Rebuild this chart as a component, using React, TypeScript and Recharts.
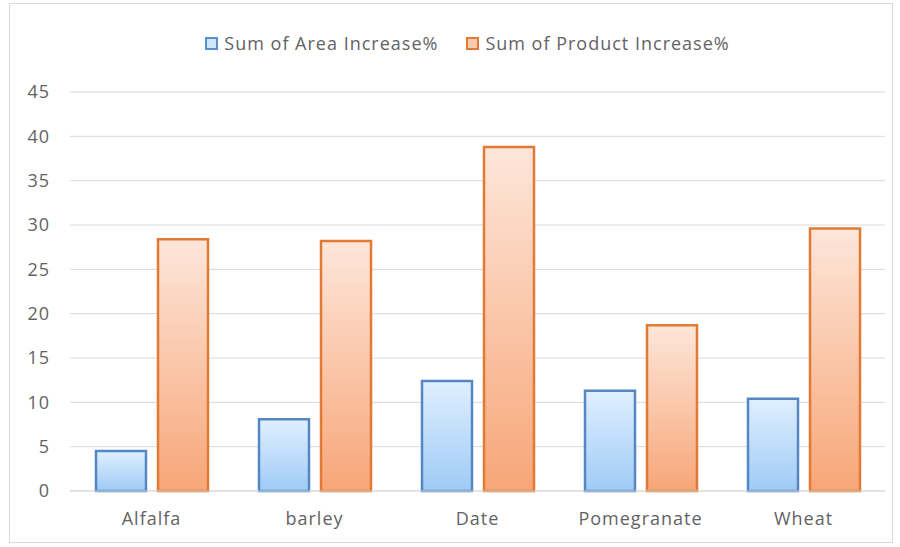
import { Bar, BarChart, CartesianGrid, Legend, XAxis, YAxis } from 'recharts'

const CROPS = ['Alfalfa', 'barley', 'Date', 'Pomegranate', 'Wheat']
const AREA_INCREASE = [4.5, 8.1, 12.4, 11.3, 10.4]
const PRODUCT_INCREASE = [28.4, 28.2, 38.8, 18.7, 29.6]
const Y_TICKS = [0, 5, 10, 15, 20, 25, 30, 35, 40, 45]

const data = CROPS.map((crop, i) => ({
  crop,
  area: AREA_INCREASE[i],
  product: PRODUCT_INCREASE[i],
}))

const FONT = '"Open Sans", "Liberation Sans", sans-serif'
const TEXT = '#636363'

const legendItems = [
  { label: 'Sum of Area Increase%', fill: '#cfe5fb', stroke: '#5b8fc7' },
  { label: 'Sum of Product Increase%', fill: '#fbcbb0', stroke: '#e07a35' },
]

function LegendContent() {
  return (
    <div
      style={{
        display: 'flex',
        justifyContent: 'center',
        gap: 28,
        fontFamily: FONT,
        fontSize: 18,
        letterSpacing: 1,
        color: TEXT,
        paddingLeft: 40,
      }}
    >
      {legendItems.map((it) => (
        <span key={it.label} style={{ display: 'flex', alignItems: 'center' }}>
          <span
            style={{
              width: 9,
              height: 9,
              background: it.fill,
              border: `2px solid ${it.stroke}`,
              marginRight: 6,
            }}
          />
          {it.label}
        </span>
      ))}
    </div>
  )
}

export default function App() {
  return (
    <div style={{ position: 'absolute', left: 0, top: 0, width: 900, height: 547, background: '#fff' }}>
      <div
        style={{
          position: 'absolute',
          left: 9,
          top: 3,
          width: 884,
          height: 540,
          border: '1px solid #d9d9d9',
          boxSizing: 'border-box',
        }}
      />
      <div style={{ position: 'absolute', left: 0, top: 0 }}>
        <BarChart
          width={900}
          height={547}
          data={data}
          margin={{ top: 31, right: 15, bottom: 26, left: 10 }}
          barGap={12}
          barSize={50}
        >
          <defs>
            <linearGradient id="blueGrad" x1="0" y1="0" x2="0" y2="1">
              <stop offset="0%" stopColor="#e0efff" />
              <stop offset="100%" stopColor="#9fcbf6" />
            </linearGradient>
            <linearGradient id="orangeGrad" x1="0" y1="0" x2="0" y2="1">
              <stop offset="0%" stopColor="#fde6da" />
              <stop offset="100%" stopColor="#f7a678" />
            </linearGradient>
          </defs>
          <Legend verticalAlign="top" height={61} content={<LegendContent />} />
          <CartesianGrid vertical={false} stroke="#d9d9d9" />
          <XAxis
            dataKey="crop"
            tickLine={false}
            axisLine={{ stroke: '#d9d9d9' }}
            tickMargin={15}
            height={30}
            tick={{ fill: TEXT, fontSize: 18, fontFamily: FONT, letterSpacing: 1 }}
          />
          <YAxis
            width={60}
            domain={[0, 45]}
            ticks={Y_TICKS}
            tickLine={false}
            axisLine={false}
            tickMargin={14}
            tick={{ fill: TEXT, fontSize: 18, fontFamily: FONT, letterSpacing: 1 }}
          />
          <Bar
            dataKey="area"
            name="Sum of Area Increase%"
            fill="url(#blueGrad)"
            stroke="#5587c2"
            strokeWidth={2.5}
            isAnimationActive={false}
          />
          <Bar
            dataKey="product"
            name="Sum of Product Increase%"
            fill="url(#orangeGrad)"
            stroke="#e07a35"
            strokeWidth={2.5}
            isAnimationActive={false}
          />
        </BarChart>
      </div>
    </div>
  )
}
